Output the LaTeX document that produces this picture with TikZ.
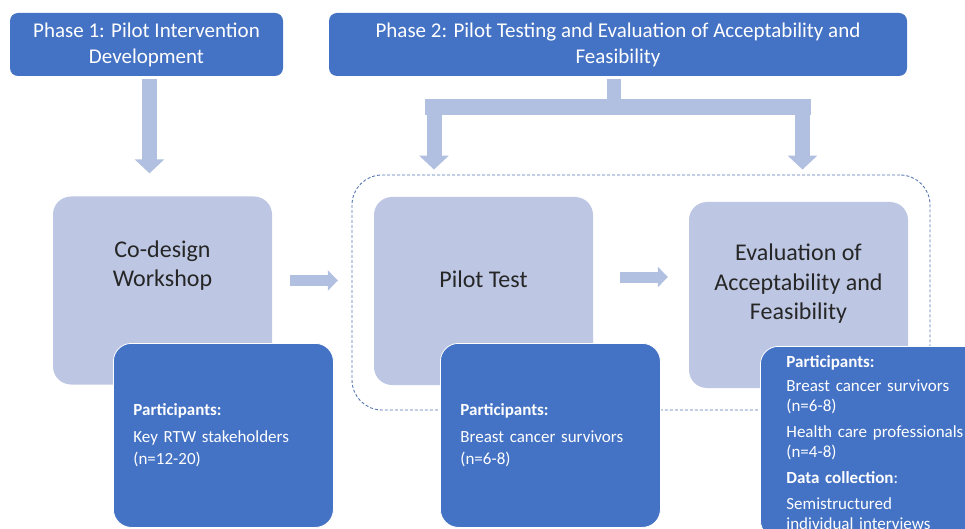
\documentclass[tikz,border=0pt]{standalone}
\usepackage{fontspec}
\setmainfont{Carlito}
\usetikzlibrary{arrows.meta}
\definecolor{phaseblue}{HTML}{4472C4}
\definecolor{stagefill}{HTML}{BDC7E3}
\definecolor{flowarrow}{HTML}{B1C0E1}
\definecolor{framegray}{HTML}{5A78B0}
\definecolor{stagetext}{HTML}{262626}
\tikzset{
  phasebox/.style={rectangle, rounded corners=8pt, fill=phaseblue, text=white,
    align=center, font=\fontsize{21}{26}\selectfont, inner sep=0pt,
    minimum height=63pt},
  stagebox/.style={rectangle, rounded corners=18pt, fill=stagefill, inner sep=0pt,
    minimum width=219pt, minimum height=188pt},
  stagelabel/.style={text=stagetext, align=center, inner sep=0pt,
    font=\fontsize{24}{29.5}\selectfont},
  infobox/.style={rectangle, rounded corners=18pt, fill=phaseblue, draw=white,
    line width=0.8pt, text=white, align=left, font=\fontsize{17}{22}\selectfont,
    anchor=north west, inner xsep=20pt, text width=180pt, minimum height=184pt},
  phaseframe/.style={rectangle, rounded corners=30pt, draw=framegray, line width=0.9pt,
    dash pattern=on 3pt off 2pt, minimum width=578pt, minimum height=235pt},
  blockarrow/.style={draw=flowarrow, line width=15pt,
    -{Triangle[width=29pt,length=14pt]}},
  sidearrow/.style={draw=flowarrow, line width=11pt,
    -{Triangle[width=20pt,length=10pt]}},
  blockline/.style={draw=flowarrow, line width=15pt}
}
\begin{document}
\begin{tikzpicture}[x=1pt,y=-1pt]
\useasboundingbox (0,0) rectangle (965,529);

% phase headers
\node[phasebox, minimum width=273pt] (phaseone) at (146.5,44.5)
  {Phase 1: Pilot Intervention\\Development};
\node[phasebox, minimum width=578pt] (phasetwo) at (618,44.5)
  {Phase 2: Pilot Testing and Evaluation of Acceptability and\\Feasibility};

% dashed frame round phase 2
\node[phaseframe] (frame) at (641,292.5) {};

% stages
\node[stagebox] (codesign) at (162.5,290.5) {};
\node[stagebox] (pilot) at (483.5,291) {};
\node[stagebox, minimum height=186pt] (evaluation) at (798.5,295) {};
\node[stagelabel] (codesigntext) at ([yshift=25pt]codesign.center) {Co-design\\Workshop};
\node[stagelabel] (pilottext) at ([yshift=12pt]pilot.center) {Pilot Test};
\node[stagelabel] (evaluationtext) at ([yshift=11pt]evaluation.center)
  {Evaluation of\\Acceptability and\\Feasibility};

% branch from phase 2
\coordinate (split) at (614,107);
\coordinate (leftdrop) at (434,107);
\coordinate (rightdrop) at (802.5,107);
\draw[blockline, line width=14pt, shorten <=3pt] (split |- phasetwo.south) -- (split);
\draw[blockline, line width=16pt] ([xshift=-9pt]leftdrop) -- ([xshift=8.5pt]rightdrop);
\draw[blockarrow, shorten <=8pt, shorten >=5pt] (leftdrop) -- (leftdrop |- frame.north);
\draw[blockarrow, shorten <=8pt, shorten >=5pt] (rightdrop) -- (rightdrop |- frame.north);

% flow arrows
\draw[blockarrow, shorten <=3pt, shorten >=23pt] ([xshift=3pt]phaseone.south)
  -- ([xshift=3pt]phaseone.south |- codesign.north);
\draw[sidearrow, shorten <=18pt, shorten >=36pt] ([yshift=10pt]codesign.east)
  -- ([yshift=10pt]codesign.east -| pilot.west);
\draw[sidearrow, shorten <=27pt, shorten >=21pt] ([yshift=14pt]pilot.east)
  -- ([yshift=14pt]pilot.east -| evaluation.west);

% participant boxes
\node[infobox] (partone) at (113,343)
  {\textbf{Participants:}\\[5pt]Key RTW stakeholders\\(n=12-20)};
\node[infobox] (parttwo) at (440,343)
  {\textbf{Participants:}\\[5pt]Breast cancer survivors\\(n=6-8)};
\node[infobox, inner xsep=26pt, inner ysep=9pt, text width=200pt,
  minimum height=0pt, font=\fontsize{17}{20}\selectfont] (partthree) at (760,346)
  {\textbf{Participants:}\\[4pt]Breast cancer survivors\\(n=6-8)\\[6pt]
   Health care professionals\\(n=4-8)\\[6pt]\textbf{Data collection}:\\[6pt]
   Semistructured\\individual interviews\\[12pt]};
\end{tikzpicture}
\end{document}
